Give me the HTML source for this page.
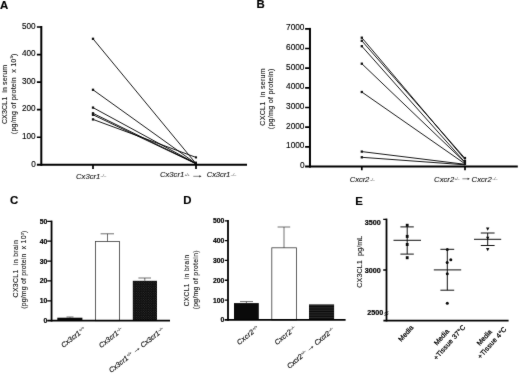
<!DOCTYPE html>
<html><head><meta charset="utf-8">
<style>
html,body{margin:0;padding:0;background:#fff;}
svg{display:block;font-family:"Liberation Sans",sans-serif;}
.ax{stroke:#000;stroke-width:2;fill:none}
.tk{stroke:#000;stroke-width:1.7;fill:none}
.ln{stroke:#000;stroke-width:0.9;fill:none}
.th{stroke:#111;stroke-width:1;fill:none}
.eb{stroke:#333;stroke-width:0.7;fill:none}
.pl{font-weight:bold;font-size:11.4px;fill:#000;stroke:#000;stroke-width:0.15}
.t7{font-size:8.2px;fill:#000;stroke:#000;stroke-width:0.12}
.t8{font-size:8.3px;fill:#000;stroke:#000;stroke-width:0.12}
.tb{font-size:6.8px;font-weight:bold;fill:#000;stroke:#000;stroke-width:0.2}
.yl{font-size:7.1px;fill:#111;stroke:#111;stroke-width:0.1}
.xl{font-size:7.7px;font-style:italic;fill:#111;stroke:#111;stroke-width:0.1}
.sp{font-size:4px;font-style:italic;fill:#333}
.xr{font-size:7.1px;font-style:italic;fill:#111;stroke:#111;stroke-width:0.18}
.sr{font-size:3.8px;font-style:italic;fill:#222;stroke:#222;stroke-width:0.1}
.xe{font-size:6.9px;fill:#000;stroke:#000;stroke-width:0.25}
.e{text-anchor:end}
.m{text-anchor:middle}
</style></head><body>
<svg width="520" height="374" viewBox="0 0 520 374">
<defs>
<filter id="bl" color-interpolation-filters="sRGB" x="0" y="0" width="520" height="374" filterUnits="userSpaceOnUse"><feConvolveMatrix order="3" kernelMatrix="0.012 0.055 0.012 0.055 0.732 0.055 0.012 0.055 0.012" edgeMode="duplicate" preserveAlpha="false"/></filter>
<pattern id="dots" width="2.4" height="2.4" patternUnits="userSpaceOnUse"><rect width="2.4" height="2.4" fill="#0a0a0a"/><circle cx="0.6" cy="0.6" r="0.42" fill="#555"/><circle cx="1.8" cy="1.8" r="0.42" fill="#555"/></pattern>
<pattern id="hl" width="3" height="1.7" patternUnits="userSpaceOnUse"><rect width="3" height="1.7" fill="#0a0a0a"/><rect y="1.25" width="3" height="0.45" fill="#444"/></pattern>
</defs>
<rect width="520" height="374" fill="#fff"/>
<g filter="url(#bl)">
<rect width="520" height="374" fill="#fff"/>

<g id="A">
<text class="pl" x="0" y="9.2">A</text>
<g class="ln">
<line x1="93.0" y1="38.8" x2="196.0" y2="163.6"/>
<line x1="93.0" y1="89.8" x2="196.0" y2="163.6"/>
<line x1="93.0" y1="107.6" x2="196.0" y2="163.6"/>
<line x1="93.0" y1="113.3" x2="196.0" y2="163.6"/>
<line x1="93.0" y1="114.8" x2="196.0" y2="163.8"/>
<line x1="93.0" y1="119.4" x2="196.0" y2="157.4"/>
</g><g fill="#111">
<rect x="91.85" y="37.65" width="2.30" height="2.30"/>
<rect x="91.85" y="88.65" width="2.30" height="2.30"/>
<rect x="91.85" y="106.45" width="2.30" height="2.30"/>
<rect x="91.85" y="112.15" width="2.30" height="2.30"/>
<rect x="91.85" y="113.65" width="2.30" height="2.30"/>
<rect x="91.85" y="118.25" width="2.30" height="2.30"/>
<rect x="194.95" y="156.35" width="2.10" height="2.10"/>
<rect x="194.60" y="161.60" width="2.40" height="2.40"/>
</g>
<path class="ax" d="M41.3,26V165.8"/>
<path class="ax" d="M36.9,164.8H247"/>
<path class="tk" d="M36.9,27.00H41.3M36.9,54.56H41.3M36.9,82.12H41.3M36.9,109.68H41.3M36.9,137.24H41.3"/>
<path class="tk" d="M93.0,164.8V169M196.0,164.8V169"/>
<g class="t7 e">
<text x="35.7" y="28.80">500</text>
<text x="35.7" y="56.36">400</text>
<text x="35.7" y="83.92">300</text>
<text x="35.7" y="111.48">200</text>
<text x="35.7" y="139.04">100</text>
<text x="35.7" y="166.60">0</text>
</g>
<text class="yl m" xml:space="preserve" textLength="59.2" transform="translate(7.3,94.5) rotate(-90)">CX3CL1  in serum</text>
<text class="yl m" xml:space="preserve" textLength="80.6" transform="translate(15.7,93.9) rotate(-90)">(pg/mg of protein  x 10<tspan font-size="4.2" dy="-2.4">3</tspan><tspan dy="2.4">)</tspan></text>
<text class="xl" x="76" y="178.8" textLength="24.3">Cx3cr1</text><text class="sp" x="100.6" y="177.4" textLength="5.6">–/–</text>
<text class="xl" x="160" y="177.3" textLength="24.2">Cx3cr1</text><text class="sp" x="184.5" y="175.9" textLength="5">+/+</text>
<path d="M193.30,176.30H200.50" stroke="#333" stroke-width="0.6" fill="none"/><path d="M201.50,176.30l-2.2,-1.1v2.2z" fill="#333"/>
<text class="xl" x="206.7" y="177.3" textLength="23.7">Cx3cr1</text><text class="sp" x="230.7" y="175.9" textLength="5.6">–/–</text>
</g>
<g id="B">
<text class="pl" x="256.5" y="8.3">B</text>
<g class="ln">
<line x1="361.8" y1="37.7" x2="465.0" y2="159.6"/>
<line x1="361.8" y1="40.8" x2="465.0" y2="158.4"/>
<line x1="361.8" y1="46.2" x2="465.0" y2="162.4"/>
<line x1="361.8" y1="63.7" x2="465.0" y2="162.4"/>
<line x1="361.8" y1="92.0" x2="465.0" y2="163.8"/>
<line x1="361.8" y1="151.6" x2="465.0" y2="164.3"/>
<line x1="361.8" y1="157.3" x2="465.0" y2="164.8"/>
</g><g fill="#111">
<rect x="360.65" y="36.55" width="2.30" height="2.30"/>
<rect x="360.65" y="39.65" width="2.30" height="2.30"/>
<rect x="360.65" y="45.05" width="2.30" height="2.30"/>
<rect x="360.65" y="62.55" width="2.30" height="2.30"/>
<rect x="360.65" y="90.85" width="2.30" height="2.30"/>
<rect x="360.65" y="150.45" width="2.30" height="2.30"/>
<rect x="360.65" y="156.15" width="2.30" height="2.30"/>
<rect x="463.90" y="156.90" width="2.20" height="2.20"/>
<rect x="463.9" y="159.8" width="2.2" height="5.4"/>
</g>
<path class="ax" d="M309.95,27.9V167.6"/>
<path class="ax" d="M305.1,166.6H517.8"/>
<path class="tk" d="M305.1,28.80H309.9M305.1,48.48H309.9M305.1,68.16H309.9M305.1,87.84H309.9M305.1,107.52H309.9M305.1,127.20H309.9M305.1,146.88H309.9"/>
<path class="tk" d="M361.8,166.6V170.3M465.0,166.6V170.3"/>
<g class="t8 e">
<text x="304.5" y="30.30">7000</text>
<text x="304.5" y="49.98">6000</text>
<text x="304.5" y="69.66">5000</text>
<text x="304.5" y="89.34">4000</text>
<text x="304.5" y="109.02">3000</text>
<text x="304.5" y="128.70">2000</text>
<text x="304.5" y="148.38">1000</text>
<text x="304.5" y="168.10">0</text>
</g>
<text class="yl m" xml:space="preserve" textLength="57.4" transform="translate(264.5,97) rotate(-90)">CXCL1  in serum</text>
<text class="yl m" xml:space="preserve" textLength="60.7" transform="translate(273.4,98.9) rotate(-90)">(pg/mg of protein)</text>
<text class="xl" x="349.8" y="182.3" textLength="19.6">Cxcr2</text><text class="sp" x="369.8" y="180.9" textLength="5">–/–</text>
<text class="xl" x="434.1" y="181.6" textLength="20.1">Cxcr2</text><text class="sp" x="454.6" y="180.2" textLength="5">+/–</text>
<path d="M462.40,178.80H468.80" stroke="#333" stroke-width="0.6" fill="none"/><path d="M469.80,178.80l-2.2,-1.1v2.2z" fill="#333"/>
<text class="xl" x="471.6" y="181.6" textLength="20.1">Cxcr2</text><text class="sp" x="492.2" y="180.2" textLength="5.4">–/–</text>
</g>
<g id="C">
<text class="pl" x="10.1" y="204.3">C</text>
<rect x="57.3" y="317.70" width="25.1" height="3.00" fill="#0a0a0a"/>
<path class="eb" d="M70,317.7V317M66.5,317H73.5"/>
<rect x="95.5" y="241.5" width="24" height="79.20" fill="#fff" stroke="#3a3a3a" stroke-width="0.8"/>
<path class="eb" d="M107.5,241.5V233.8M100.6,233.8H114"/>
<rect x="132.8" y="280.8" width="24.2" height="39.90" fill="url(#dots)"/>
<path class="eb" d="M144.8,280.8V278M138.4,278H151"/>
<path stroke="#000" stroke-width="1.8" fill="none" d="M51.55,220.6V321.50"/>
<path stroke="#000" stroke-width="1.8" fill="none" d="M47.2,320.70H170"/>
<path stroke="#000" stroke-width="1.3" fill="none" d="M47.2,221.30H51.55M47.2,241.18H51.55M47.2,261.06H51.55M47.2,280.94H51.55M47.2,300.82H51.55"/>
<g class="tb e">
<text x="47.4" y="223.80">50</text>
<text x="47.4" y="243.68">40</text>
<text x="47.4" y="263.56">30</text>
<text x="47.4" y="283.44">20</text>
<text x="47.4" y="303.32">10</text>
<text x="47.4" y="323.20">0</text>
</g>
<text class="yl m" xml:space="preserve" textLength="57.2" transform="translate(17.8,268.8) rotate(-90)" style="font-size:6.9px">CX3CL1  in brain</text>
<text class="yl m" xml:space="preserve" textLength="78.2" transform="translate(26.2,269.7) rotate(-90)" style="font-size:6.9px">(pg/mg of protein  x 10<tspan font-size="4" dy="-2.2">3</tspan><tspan dy="2.2">)</tspan></text>
<g transform="translate(63.50,348.00) rotate(-38.5)"><text class="xr" x="0.00" y="0" textLength="22.6">Cx3cr1</text><text class="sr" x="23.00" y="-2.3">+/+</text></g>
<g transform="translate(101.30,348.20) rotate(-38.5)"><text class="xr" x="0.00" y="0" textLength="22.6">Cx3cr1</text><text class="sr" x="23.00" y="-2.3">–/–</text></g>
<g transform="translate(111.20,373.10) rotate(-38.5)"><text class="xr" x="0.00" y="0" textLength="22.6">Cx3cr1</text><text class="sr" x="23.00" y="-2.3">+/+</text><path d="M31.80,-1.90H36.70" stroke="#333" stroke-width="0.6" fill="none"/><path d="M37.70,-1.90l-2.2,-1.1v2.2z" fill="#333"/><text class="xr" x="40.20" y="0" textLength="22.6">Cx3cr1</text><text class="sr" x="63.20" y="-2.3">–/–</text></g>
</g>
<g id="D">
<text class="pl" x="183.2" y="204.3">D</text>
<rect x="234" y="303.1" width="24.8" height="16.80" fill="#0a0a0a"/>
<path class="eb" d="M246.4,303.1V301.6M240,301.6H253"/>
<rect x="271.8" y="247.8" width="24.6" height="72.10" fill="#fff" stroke="#3a3a3a" stroke-width="0.8"/>
<path class="eb" d="M284,247.8V227M277.6,227H290.2"/>
<rect x="309" y="304.4" width="25.1" height="15.50" fill="url(#hl)"/>
<path stroke="#000" stroke-width="1.8" fill="none" d="M228.00,220V320.70"/>
<path stroke="#000" stroke-width="1.8" fill="none" d="M224.6,319.90H345.6"/>
<path stroke="#000" stroke-width="1.3" fill="none" d="M224.8,220.80H228.00M224.8,240.62H228.00M224.8,260.44H228.00M224.8,280.26H228.00M224.8,300.08H228.00"/>
<g class="tb e">
<text x="224.4" y="223.30">500</text>
<text x="224.4" y="243.12">400</text>
<text x="224.4" y="262.94">300</text>
<text x="224.4" y="282.76">200</text>
<text x="224.4" y="302.58">100</text>
<text x="224.4" y="322.40">0</text>
</g>
<text class="yl m" xml:space="preserve" textLength="51.3" transform="translate(188.9,280.6) rotate(-90)" style="font-size:6.5px">CXCL1  in brain</text>
<text class="yl m" xml:space="preserve" textLength="58.9" transform="translate(198,279.9) rotate(-90)" style="font-size:6.8px">(pg/mg of protein)</text>
<g transform="translate(239.30,345.30) rotate(-39.5)"><text class="xr" x="0.00" y="0" textLength="19.8">Cxcr2</text><text class="sr" x="20.20" y="-2.3">+/+</text></g>
<g transform="translate(276.90,345.30) rotate(-39.5)"><text class="xr" x="0.00" y="0" textLength="19.8">Cxcr2</text><text class="sr" x="20.20" y="-2.3">–/–</text></g>
<g transform="translate(289.40,369.00) rotate(-40.3)"><text class="xr" x="0.00" y="0" textLength="18.2">Cxcr2</text><text class="sr" x="18.60" y="-2.3">+/–</text><path d="M27.00,-1.90H32.00" stroke="#333" stroke-width="0.6" fill="none"/><path d="M33.00,-1.90l-2.2,-1.1v2.2z" fill="#333"/><text class="xr" x="35.80" y="0" textLength="18.2">Cxcr2</text><text class="sr" x="54.40" y="-2.3">–/–</text></g>
</g>
<g id="E">
<text class="pl" x="355.3" y="205">E</text>
<path stroke="#000" stroke-width="1.8" fill="none" d="M386.50,218.6V321.40"/>
<path stroke="#000" stroke-width="1.8" fill="none" d="M383.4,320.60H508.6"/>
<path stroke="#000" stroke-width="1.3" fill="none" d="M383.2,219.3H386.50M383.2,270H386.50"/>
<path d="M384.4,313.2l4,-1.5M384.4,315.4l4,-1.5" stroke="#000" stroke-width="0.8" fill="none"/>
<g class="tb e" style="font-size:7.2px">
<text x="380.8" y="225.2">3500</text><text x="380.8" y="272.8">3000</text><text x="383.2" y="315.2">2500</text>
</g>
<text class="yl m" xml:space="preserve" textLength="52" transform="translate(362.4,261.7) rotate(-90)">CX3CL1  pg/mL</text>
<g class="th">
<path d="M393.5,240.3H421"/>
<path d="M407.2,226.9V254.1M400.4,226.9H413.8M400.4,254.1H413.8"/>
<path d="M433.8,269.9H461.2"/>
<path d="M447.3,249.3V290.2M440.4,249.3H454.2M440.4,290.2H454.2"/>
<path d="M474,239.3H501.2"/>
<path d="M487.7,233V245.5M480.8,233H494.6M480.8,245.5H494.6"/>
</g>
<g fill="#0a0a0a">
<rect x="405.8" y="223.8" width="2.8" height="3"/>
<rect x="405.8" y="234.9" width="2.8" height="3"/>
<rect x="405.8" y="243" width="2.8" height="3"/>
<rect x="405.8" y="256.2" width="2.8" height="3"/>
<circle cx="447.3" cy="249.6" r="1.5"/>
<circle cx="450.8" cy="259.8" r="1.5"/>
<circle cx="447.2" cy="262.4" r="1.5"/>
<circle cx="447.3" cy="273.8" r="1.5"/>
<circle cx="447.3" cy="303.3" r="1.5"/>
<path d="M486,227.6h3.4l-1.7,3.2z"/>
<path d="M486,236.8h3.4l-1.7,3.2z"/>
<path d="M486,248h3.4l-1.7,3.2z"/>
</g>
<g transform="translate(401.30,342.00) rotate(-48.0)"><text class="xe" x="0.00" y="0" textLength="18.9">Media</text></g>
<g transform="translate(436.90,345.70) rotate(-48.0)"><text class="xe" x="0.00" y="0" textLength="18.9">Media</text></g>
<g transform="translate(436.40,360.40) rotate(-48.3)"><text class="xe" x="0.00" y="0" textLength="44.2">+Tissue 37°C</text></g>
<g transform="translate(479.70,346.10) rotate(-48.0)"><text class="xe" x="0.00" y="0" textLength="18.9">Media</text></g>
<g transform="translate(480.40,359.20) rotate(-48.3)"><text class="xe" x="0.00" y="0" textLength="39.9">+Tissue 4°C</text></g>
</g>
</g></svg>
</body></html>
